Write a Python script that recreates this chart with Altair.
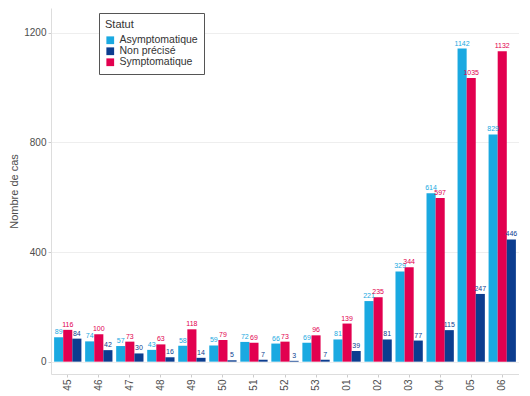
import altair as alt
import pandas as pd

weeks = ["45", "46", "47", "48", "49", "50", "51", "52", "53", "01", "02", "03", "04", "05", "06"]
asympto = [89, 74, 57, 43, 58, 59, 72, 66, 69, 81, 221, 329, 614, 1142, 829]
sympto = [116, 100, 73, 63, 118, 79, 69, 73, 96, 139, 235, 344, 597, 1035, 1132]
nonprec = [84, 42, 30, 16, 14, 5, 7, 3, 7, 39, 81, 77, 115, 247, 446]

series = ["Asymptomatique", "Non précisé", "Symptomatique"]
colors = ["#1aa9e1", "#0c3d8f", "#e2004f"]
bar_order = ["Asymptomatique", "Symptomatique", "Non précisé"]

rows = []
for i, w in enumerate(weeks):
    rows.append({"semaine": w, "statut": "Asymptomatique", "cas": asympto[i]})
    rows.append({"semaine": w, "statut": "Symptomatique", "cas": sympto[i]})
    rows.append({"semaine": w, "statut": "Non précisé", "cas": nonprec[i]})
df = pd.DataFrame(rows)

color_scale = alt.Scale(domain=series, range=colors)

base = alt.Chart(df).encode(
    x=alt.X("semaine:N", sort=weeks, title=None,
            scale=alt.Scale(paddingInner=0.12, paddingOuter=0.1),
            axis=alt.Axis(labelAngle=-90, labelFontSize=10, labelColor="#4d4d4d",
                          domainColor="#dddddd", tickColor="#cccccc", tickSize=3,
                          labelFont="Liberation Sans", labelPadding=2, grid=False)),
    xOffset=alt.XOffset("statut:N", sort=bar_order),
    y=alt.Y("cas:Q", title="Nombre de cas",
            scale=alt.Scale(domain=[-45, 1290], nice=False, zero=False),
            axis=alt.Axis(values=[0, 400, 800, 1200], format="d", labelFontSize=10,
                          labelColor="#4d4d4d",
                          titleFontSize=11, titleFontWeight="normal", titleColor="#4d4d4d",
                          titleFont="Liberation Sans", labelFont="Liberation Sans",
                          domainColor="#dddddd", tickColor="#cccccc", tickSize=3,
                          labelPadding=2, grid=True, gridColor="#eeeeee", titlePadding=4)),
)

bars = base.mark_bar().encode(
    color=alt.Color("statut:N", scale=color_scale, title="Statut",
                    legend=alt.Legend(orient="none", legendX=48, legendY=5,
                                      strokeColor="#555555", padding=6,
                                      symbolType="square", symbolSize=60,
                                      titleFontSize=11, titleFontWeight="normal",
                                      titleColor="#333333", labelFontSize=10.5,
                                      labelColor="#333333", rowPadding=0,
                                      titleFont="Liberation Sans", labelFont="Liberation Sans",
                                      symbolStrokeWidth=0, symbolOpacity=1, fillColor="white"))
)

labels = base.mark_text(dy=-5, fontSize=7, font="Liberation Sans").encode(
    text="cas:Q",
    color=alt.Color("statut:N", scale=color_scale, legend=None),
)

chart = alt.layer(bars, labels).properties(
    width=468, height=366, padding={"left": 0, "top": 0, "right": 0, "bottom": 0}
).configure_view(stroke=None)

chart.save("out.html", embed_options={"renderer": "svg", "actions": False})
